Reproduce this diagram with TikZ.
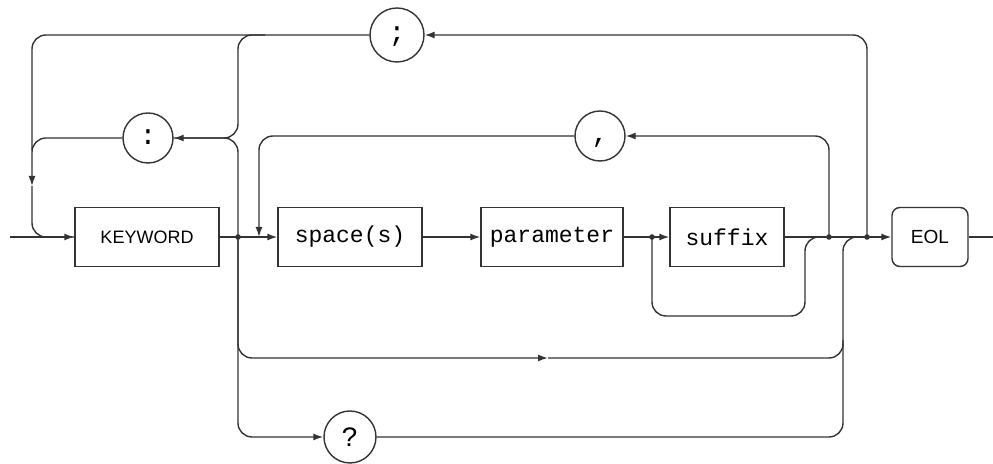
\documentclass[tikz,border=0pt]{standalone}
\usepackage{fontspec}
\setmainfont{Liberation Sans}
\newfontfamily\monofont{Liberation Mono}
\usetikzlibrary{arrows.meta}
\begin{document}
\begin{tikzpicture}[x=0.5pt, y=-0.5pt,
  line width=0.7pt, draw=black!80,
  every node/.style = {draw=black!80, inner sep=0pt},
  box/.style = {shape=rectangle, minimum height=29.5pt,
    font=\monofont\fontsize{11.5}{14}\selectfont},
  term/.style = {shape=circle,
    font=\monofont\fontsize{14}{16}\selectfont},
  arr/.style = {-{Latex[length=5pt,width=3.5pt]}},
  loop/.style = {rounded corners=7pt}]
  \useasboundingbox (0,0) rectangle (993,464);
  % boxes on the main line
  \node[box, minimum width=72pt, font=\fontsize{9}{11}\selectfont] (kw) at (147,237) {KEYWORD};
  \node[box, minimum width=72pt] (spc) at (350,237) {space(s)};
  \node[box, minimum width=71pt] (par) at (552,237) {parameter};
  \node[box, minimum width=57pt] (suf) at (727,237) {suffix};
  \node[box, minimum width=38pt, rounded corners=4pt,
    font=\fontsize{9.5}{11}\selectfont] (eol) at (930,237) {EOL};
  % separators
  \node[term, minimum size=27pt] (semi) at (397,35) {\strut;};
  \node[term, minimum size=25pt] (colon) at (148,138) {\strut:};
  \node[term, minimum size=25pt] (comma) at (600,136) {\strut,};
  \node[term, minimum size=26pt] (query) at (350,437) {?};
  % ends and junctions
  \coordinate (in) at (10,237);
  \coordinate (out) at (993,237);
  \coordinate (j1) at (238,237);
  \coordinate (jc) at (259,237);
  \coordinate (j2) at (652,237);
  \coordinate (j3) at (829,237);
  \coordinate (j4) at (867,237);
  \coordinate (lx) at (32,186);
  \coordinate (bm) at (548,358);
  % main line
  \draw[arr] (in) -- (kw);
  \draw (kw) -- (j1);
  \draw[arr] (j1) -- (spc);
  \draw[arr] (spc) -- (par);
  \draw (par) -- (j2);
  \draw[arr] (j2) -- (suf);
  \draw (suf) -- (j3) -- (j4);
  \draw[arr] (j4) -- (eol);
  \draw (eol) -- (out);
  % ; and : loops back to the keyword
  \draw[arr, loop] (j4) |- (semi);
  \draw[loop] (semi) -| (32,150);
  \draw[loop] (265,35) -| (238,138) -- (colon);
  \draw[arr, loop] (j1) |- (colon);
  \draw[arr, loop] (colon) -| (lx);
  \draw[loop] (lx) |- (kw);
  % , loop and suffix bypass
  \draw[arr, loop] (j3) |- (comma);
  \draw[arr, loop] (comma) -| (jc);
  \draw[loop] (j2) |- (805,316) |- (j3);
  % bottom paths
  \draw[loop] (bm) -| (843,300) |- (j4);
  \draw[arr, loop] (j1) |- (bm);
  \draw[arr, loop] (j1) |- (query);
  \draw[loop] (query) -| (843,340);
  \foreach \j in {j1,j2,j3,j4}
    \fill[black!80] (\j) circle (1.4pt);
\end{tikzpicture}
\end{document}
